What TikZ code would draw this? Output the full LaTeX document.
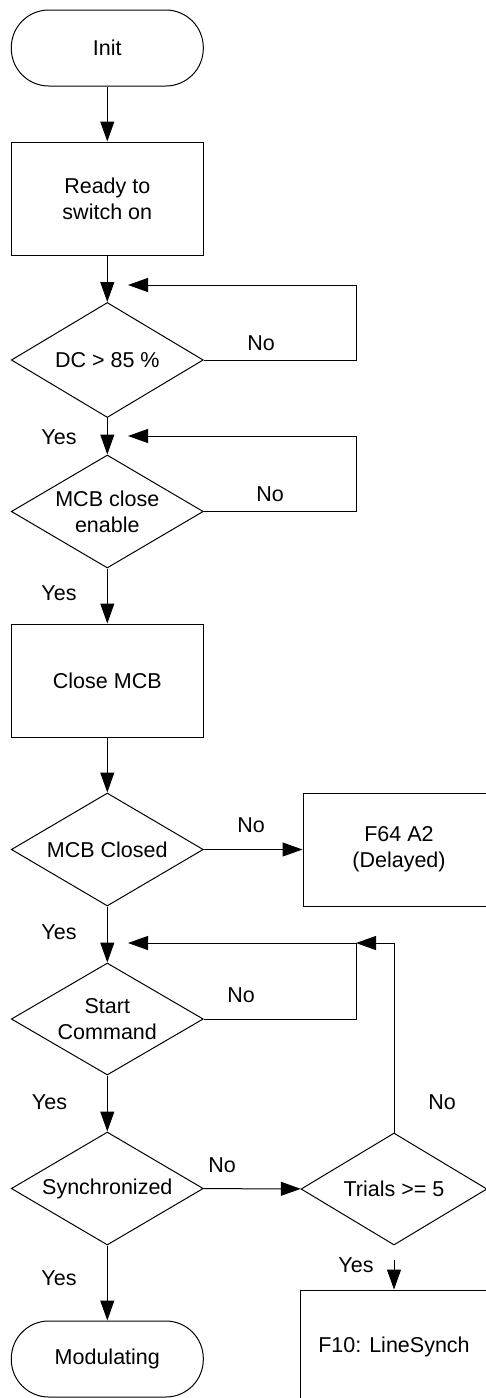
\documentclass[tikz,border=0pt]{standalone}
\usepackage{fontspec}
\setmainfont{Liberation Sans}
\usetikzlibrary{shapes.geometric,arrows.meta}
\begin{document}
\begin{tikzpicture}[x=1pt,y=-1pt,
  every node/.style={font=\fontsize{21.5}{25.7}\selectfont, align=center},
  line/.style={line width=1pt, draw=black},
  arr/.style={line, -{Triangle[length=20pt,width=14pt]}},
  term/.style={draw, line width=1pt, rectangle, rounded corners=37.5pt, minimum width=192pt, minimum height=76pt, inner sep=0pt},
  proc/.style={draw, line width=1pt, rectangle, minimum width=192pt, minimum height=113pt, inner sep=0pt},
  decision/.style={draw, line width=1pt, diamond, aspect=1.67, minimum width=192pt, minimum height=115pt, inner sep=0pt},
  lbl/.style={inner sep=0pt, text height=15.5pt, text depth=0pt}
]
\useasboundingbox (0,0) rectangle (485,1398);

% nodes
\node[term] (init) at (107.3,48) {Init};
\node[proc] (ready) at (107.3,198.5) {Ready to\\switch on};
\node[decision] (dc) at (107.3,360) {DC > 85 \%};
\node[decision, minimum height=113pt] (mcben) at (107.3,511.5) {MCB close\\enable};
\node[proc] (close) at (107.3,680.5) {Close MCB};
\node[decision, minimum height=113pt] (closed) at (107.3,849.5) {MCB Closed};
\node[proc, minimum width=192pt] (f64) at (399,849.5) {F64 A2\\(Delayed)};
\node[decision, minimum height=112pt] (start) at (107.3,1019) {Start\\Command};
\node[decision, minimum height=113pt] (sync) at (107.3,1188.5) {Synchronized};
\node[decision, minimum width=186pt, minimum height=112pt] (trials) at (394,1189) {Trials >= 5};
\node[term] (mod) at (107.3,1359) {Modulating};
\node[proc, minimum width=188pt] (f10) at (394,1346.5) {F10: LineSynch};

% helper coordinates
\coordinate (r1) at (356,285);
\coordinate (t1) at (128,285);
\coordinate (r2) at (356,436);
\coordinate (t2) at (128,436);
\coordinate (r3) at (356,943);
\coordinate (t3) at (128,943);
\coordinate (tr) at (394,943);
\coordinate (ys) at (394,1260);

% connectors
\draw[arr] (init) -- (ready);
\draw[arr] (ready) -- (dc);
\draw[line] (dc.east) -- (dc.east -| r1) -- (r1);
\draw[arr] (r1) -- (t1);
\draw[arr] (dc) -- (mcben);
\draw[line] (mcben.east) -- (mcben.east -| r2) -- (r2);
\draw[arr] (r2) -- (t2);
\draw[arr] (mcben) -- (close);
\draw[arr] (close) -- (closed);
\draw[arr] (closed) -- (f64);
\draw[arr] (closed) -- (start);
\draw[line] (start.east) -- (start.east -| r3) -- (r3);
\draw[arr] (r3) -- (t3);
\draw[line] (trials.north) -- (tr);
\draw[arr] (tr) -- (r3);
\draw[arr] (start) -- (sync);
\draw[arr] (sync) -- (trials);
\draw[arr] (sync) -- (mod);
\draw[arr] (ys) -- (f10.north);

% labels
\node[lbl] (n1) at (261,343) {No};
\node[lbl] (y1) at (59,437) {Yes};
\node[lbl] (n2) at (270,494) {No};
\node[lbl] (y2) at (59,593) {Yes};
\node[lbl] (n3) at (251,825) {No};
\node[lbl] (y3) at (59,932) {Yes};
\node[lbl] (n4) at (241,995) {No};
\node[lbl] (y4) at (49.5,1102) {Yes};
\node[lbl] (n5) at (442,1102) {No};
\node[lbl] (n6) at (222,1165) {No};
\node[lbl] (y5) at (59,1278) {Yes};
\node[lbl] (y6) at (356,1265) {Yes};
\end{tikzpicture}
\end{document}
